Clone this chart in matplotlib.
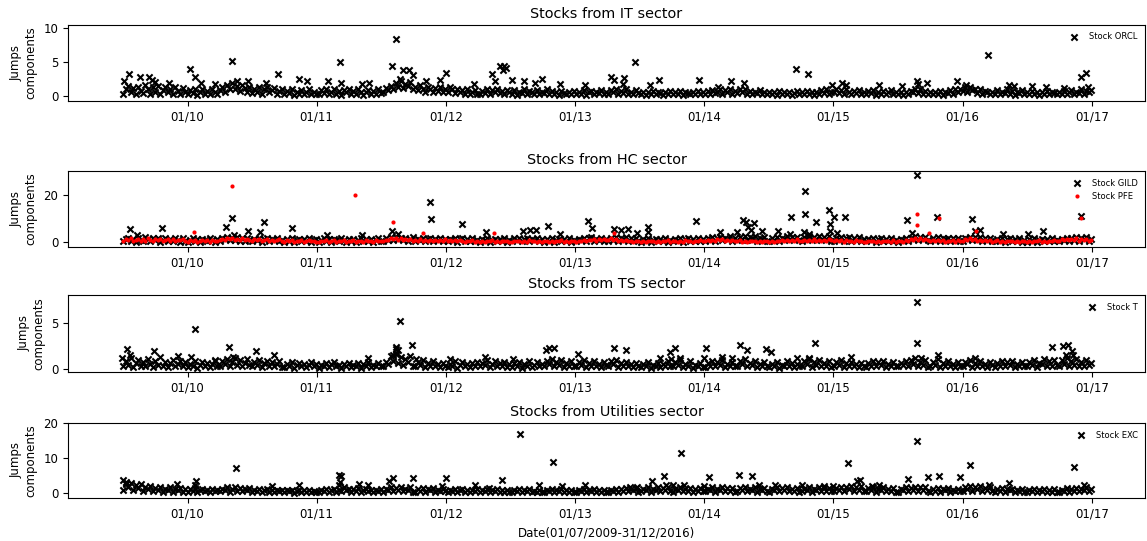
import matplotlib
matplotlib.use("Agg")
import matplotlib.dates as mdates
import pandas as pd
from matplotlib import pyplot as plt

# Weekly readings of the dense part of each jump series (Jul 2009 - Dec 2016),
# one row per quarter; the isolated spikes are listed separately below.
START, END = "2009-07-03", "2016-12-30"

# ---- IT sector: ORCL ----
orcl_band = [
    0.3, 0.9, 1.4, 0.5, 1.1, 0.2, 1.3, 0.7, 0.4, 1.5, 0.9, 0.3, 1.2,
    0.6, 1.4, 0.2, 0.8, 1.3, 0.5, 1.0, 0.3, 1.2, 0.7, 0.2, 1.1, 0.6,
    0.2, 0.8, 0.4, 1.0, 0.1, 0.6, 0.9, 0.3, 0.7, 0.2, 1.0, 0.5, 0.3,
    0.8, 1.2, 0.6, 1.6, 1.0, 1.8, 0.9, 1.4, 0.7, 1.5, 1.1, 0.6, 1.3,
    0.4, 1.0, 0.6, 1.3, 0.3, 0.9, 1.2, 0.5, 0.8, 1.1, 0.3, 0.7, 1.0,
    0.2, 0.7, 0.4, 0.9, 0.1, 0.6, 0.3, 0.8, 0.2, 0.5, 0.9, 0.3, 0.6, 0.2,
    0.2, 0.8, 0.4, 1.0, 0.2, 0.6, 0.9, 0.3, 0.7, 0.1, 0.8, 0.5, 1.0,
    0.3, 0.7, 0.2, 0.9, 0.5, 0.1, 0.6, 0.8, 0.3, 0.7, 0.2, 0.9, 0.4,
    0.5, 1.1, 0.8, 1.4, 1.0, 1.9, 1.3, 2.2, 1.1, 1.7, 1.4, 2.0, 0.9,
    1.2, 0.8, 1.5, 1.0, 0.6, 1.3, 0.9, 0.5, 1.1, 0.7, 1.2, 0.6, 1.0,
    0.6, 1.2, 0.9, 0.4, 1.0, 0.5, 0.8, 0.3, 0.9, 0.2, 0.6, 0.8, 0.3,
    0.2, 0.7, 0.4, 0.9, 0.3, 0.8, 0.5, 1.0, 0.4, 0.7, 0.2, 0.8, 0.5,
    0.3, 0.8, 0.1, 0.6, 0.4, 0.9, 0.2, 0.7, 0.5, 0.3, 0.8, 0.2, 0.6,
    0.4, 0.9, 0.2, 0.7, 0.3, 0.6, 0.1, 0.7, 0.4, 0.2, 0.6, 0.3, 0.7,
    0.2, 0.6, 0.3, 0.8, 0.1, 0.5, 0.7, 0.2, 0.6, 0.4, 0.8, 0.2, 0.5,
    0.3, 0.8, 0.5, 0.9, 0.2, 0.7, 0.4, 0.9, 0.3, 0.6, 0.2, 0.8, 0.4,
    0.2, 0.6, 0.1, 0.5, 0.3, 0.7, 0.2, 0.6, 0.4, 0.1, 0.5, 0.3, 0.7,
    0.2, 0.6, 0.3, 0.7, 0.1, 0.5, 0.4, 0.2, 0.6, 0.3, 0.7, 0.2, 0.5,
    0.3, 0.7, 0.2, 0.8, 0.4, 0.6, 1.0, 0.3, 0.8, 0.5, 0.9, 0.3, 0.7,
    0.4, 1.0, 0.6, 0.9, 0.3, 0.7, 0.2, 0.6, 0.4, 0.8, 0.2, 0.5, 0.3,
    0.6, 0.2, 0.5, 0.1, 0.7, 0.3, 0.5, 0.2, 0.6, 0.1, 0.4, 0.7, 0.2,
    0.5, 0.3, 0.7, 0.2, 0.6, 0.1, 0.5, 0.3, 0.8, 0.4, 0.9, 0.3, 0.6,
    0.5, 1.0, 0.4, 0.8, 0.3, 0.9, 0.6, 0.2, 0.7, 0.4, 0.8, 0.3, 0.6,
    0.2, 0.7, 0.4, 0.8, 0.1, 0.6, 0.3, 0.7, 0.2, 0.5, 0.8, 0.3, 0.6,
    0.2, 0.5, 0.1, 0.6, 0.3, 0.7, 0.5, 1.0, 0.4, 0.9, 0.3, 0.7, 0.2,
    0.6, 0.2, 0.5, 0.3, 0.7, 0.1, 0.6, 0.4, 0.8, 0.3, 0.9, 0.5, 1.0,
    0.7, 1.2, 0.5, 1.3, 0.8, 1.0, 0.4, 0.9, 0.3, 0.7, 0.5, 0.2, 0.6,
    0.3, 0.8, 0.2, 0.6, 0.4, 0.9, 0.3, 0.7, 0.1, 0.6, 0.4, 0.8, 0.2,
    0.5, 0.2, 0.7, 0.3, 0.6, 0.1, 0.5, 0.3, 0.7, 0.2, 0.6, 0.4, 0.2,
    0.6, 0.3, 0.7, 0.2, 0.5, 0.8, 0.3, 0.6, 0.4, 0.9, 0.3, 0.7, 0.5, 0.8,
]
orcl_spike_dates = [
    "2009-07-05", "2009-07-20", "2009-08-20", "2009-09-14", "2009-09-22", "2009-10-01", "2009-11-10",
    "2010-01-09", "2010-01-21", "2010-02-08", "2010-03-20", "2010-05-08", "2010-05-20", "2010-06-22",
    "2010-08-10", "2010-09-15", "2010-11-12", "2010-12-05", "2011-02-01", "2011-03-08", "2011-03-12",
    "2011-05-08", "2011-05-30", "2011-08-03", "2011-08-14", "2011-08-24", "2011-09-03", "2011-09-18",
    "2011-10-01", "2011-11-07", "2011-12-15", "2012-01-03", "2012-03-20", "2012-05-10", "2012-05-18",
    "2012-06-03", "2012-06-10", "2012-06-15", "2012-06-20", "2012-07-05", "2012-08-10", "2012-09-10",
    "2012-09-30", "2012-11-20", "2013-01-30", "2013-04-12", "2013-04-22", "2013-05-15", "2013-05-20",
    "2013-06-20", "2013-07-30", "2013-08-25", "2013-12-17", "2014-02-10", "2014-03-18", "2014-04-22",
    "2014-09-17", "2014-10-20", "2014-12-27", "2015-01-25", "2015-02-05", "2015-05-10", "2015-07-13",
    "2015-08-24", "2015-08-28", "2015-09-22", "2015-12-16", "2016-01-10", "2016-03-14", "2016-05-10",
    "2016-05-25", "2016-07-15", "2016-08-25", "2016-10-15", "2016-12-02", "2016-12-15", "2016-12-20",
]
orcl_spike_values = [
    2.2, 3.2, 2.7, 2.7, 2.3, 2.0, 1.8,
    3.9, 2.8, 1.8, 1.7, 5.1, 2.2, 2.2,
    1.8, 3.2, 2.4, 2.1, 2.1, 5.0, 1.9,
    1.7, 1.9, 4.4, 8.4, 2.5, 3.7, 3.7,
    3.0, 2.2, 2.3, 3.3, 1.7, 3.2, 2.1,
    4.3, 3.7, 4.3, 4.0, 2.3, 2.1, 1.8,
    2.5, 1.7, 1.5, 2.7, 2.3, 1.7, 2.6,
    4.9, 1.6, 2.3, 2.3, 1.3, 2.2, 1.9,
    3.9, 3.2, 1.6, 1.9, 1.6, 1.6, 1.4,
    2.2, 1.7, 1.9, 2.2, 1.6, 6.0, 1.6,
    1.4, 1.4, 1.2, 1.1, 2.7, 3.4, 1.2,
]

# ---- HC sector: GILD and PFE ----
gild_band = [
    0.4, 1.2, 2.0, 0.6, 1.5, 0.3, 1.8, 1.0, 0.5, 2.2, 1.3, 0.4, 1.7,
    0.8, 2.0, 0.3, 1.1, 1.9, 0.6, 1.4, 0.4, 1.6, 1.0, 0.3, 1.8, 0.7,
    0.3, 1.0, 1.7, 0.5, 1.3, 0.2, 1.5, 0.8, 0.4, 1.8, 1.1, 0.3, 1.4,
    0.6, 1.9, 1.2, 2.4, 0.8, 2.0, 1.0, 2.2, 0.7, 1.6, 0.5, 1.8, 1.1,
    0.4, 1.5, 0.9, 1.9, 0.3, 1.2, 1.7, 0.5, 1.4, 0.8, 1.8, 0.4, 1.1,
    0.3, 1.3, 0.7, 1.6, 0.2, 1.0, 1.5, 0.4, 1.2, 0.6, 1.7, 0.3, 0.9, 1.4,
    0.3, 1.1, 1.6, 0.5, 1.3, 0.2, 1.4, 0.8, 0.4, 1.7, 1.0, 0.3, 1.2,
    0.5, 1.5, 0.2, 1.1, 1.6, 0.4, 1.2, 0.7, 1.5, 0.3, 1.0, 1.7, 0.6,
    0.4, 1.6, 1.0, 2.2, 0.8, 2.4, 1.3, 2.0, 0.9, 1.8, 0.6, 1.5, 2.1,
    0.5, 1.4, 0.9, 1.9, 0.4, 1.3, 1.7, 0.6, 1.5, 0.8, 2.0, 0.5, 1.2,
    0.4, 1.5, 0.9, 1.8, 0.3, 1.2, 1.6, 0.5, 1.4, 0.7, 1.7, 0.4, 1.1,
    0.3, 1.3, 0.8, 1.6, 0.2, 1.1, 1.5, 0.4, 1.2, 0.6, 1.7, 0.3, 1.0,
    0.4, 1.6, 1.0, 2.0, 0.5, 1.4, 1.9, 0.6, 1.5, 0.9, 1.8, 0.4, 1.3,
    0.3, 1.2, 0.7, 1.6, 0.2, 1.1, 1.5, 0.4, 1.3, 0.6, 1.7, 0.3, 1.0,
    0.4, 1.4, 0.9, 1.9, 0.5, 1.6, 2.1, 0.6, 1.5, 0.8, 2.0, 0.5, 1.3,
    0.6, 1.8, 1.1, 2.3, 0.7, 1.9, 1.4, 2.1, 0.5, 1.6, 0.9, 1.9, 0.4,
    0.3, 1.3, 0.8, 1.7, 0.2, 1.1, 1.5, 0.4, 1.2, 0.6, 1.6, 0.3, 1.0,
    0.4, 1.5, 0.9, 1.8, 0.3, 1.2, 1.7, 0.5, 1.4, 0.7, 1.9, 0.4, 1.3,
    0.5, 1.7, 1.1, 2.2, 0.6, 1.8, 2.4, 0.8, 1.9, 1.2, 2.5, 0.7, 1.6,
    0.8, 2.3, 1.4, 2.7, 0.9, 2.1, 1.6, 2.5, 0.7, 1.9, 1.2, 2.3, 0.6,
    0.5, 1.8, 1.1, 2.3, 0.7, 2.0, 1.4, 2.6, 0.8, 2.2, 1.3, 2.4, 0.9,
    0.6, 2.1, 1.3, 2.6, 0.8, 2.4, 1.5, 2.8, 0.9, 2.2, 1.4, 2.5, 0.7,
    0.5, 1.9, 1.2, 2.3, 0.6, 1.7, 2.1, 0.7, 1.8, 1.0, 2.2, 0.5, 1.4,
    0.4, 1.4, 0.9, 1.8, 0.3, 1.2, 1.6, 0.5, 1.3, 0.7, 1.7, 0.4, 1.1,
    0.3, 1.3, 0.8, 1.9, 0.6, 2.0, 1.3, 2.5, 0.9, 2.2, 1.5, 2.4, 0.8,
    0.5, 1.7, 1.0, 2.1, 0.6, 1.8, 1.2, 2.0, 0.5, 1.6, 0.9, 1.9, 0.6,
    0.6, 2.0, 1.3, 2.4, 0.8, 2.1, 1.5, 2.2, 0.7, 1.8, 1.1, 2.0, 0.5,
    0.4, 1.4, 0.8, 1.7, 0.3, 1.2, 1.6, 0.4, 1.3, 0.7, 1.8, 0.3, 1.1,
    0.3, 1.2, 0.7, 1.6, 0.2, 1.1, 1.5, 0.4, 1.3, 0.6, 1.7, 0.4, 1.0,
    0.5, 1.5, 0.9, 1.9, 0.4, 1.6, 1.1, 2.2, 0.7, 1.9, 1.2, 2.1, 0.6, 1.5,
]
gild_spike_dates = [
    "2009-07-23", "2009-08-10", "2009-10-20", "2010-04-20", "2010-05-08", "2010-05-12", "2010-06-22",
    "2010-07-26", "2010-08-05", "2010-10-22", "2011-01-30", "2011-05-08", "2011-08-03", "2011-08-20",
    "2011-11-18", "2011-11-19", "2012-02-15", "2012-04-25", "2012-08-05", "2012-08-25", "2012-09-12",
    "2012-10-16", "2012-11-20", "2013-02-05", "2013-02-18", "2013-04-20", "2013-05-10", "2013-05-30",
    "2013-06-25", "2013-07-25", "2013-07-26", "2013-12-08", "2014-02-15", "2014-04-02", "2014-04-20",
    "2014-04-28", "2014-05-05", "2014-05-12", "2014-05-22", "2014-06-12", "2014-07-28", "2014-08-30",
    "2014-09-03", "2014-10-10", "2014-10-12", "2014-10-14", "2014-10-25", "2014-11-13", "2014-12-20",
    "2014-12-22", "2014-12-23", "2015-01-03", "2015-01-10", "2015-02-03", "2015-07-27", "2015-08-12",
    "2015-08-24", "2015-10-20", "2016-01-27", "2016-02-05", "2016-02-18", "2016-04-25", "2016-07-05",
    "2016-08-15", "2016-12-02",
]
gild_spike_values = [
    5.5, 3.1, 5.9, 6.3, 10.4, 3.0, 4.9,
    4.4, 8.4, 5.9, 2.9, 2.9, 4.9, 3.5,
    16.9, 9.8, 7.6, 4.5, 4.8, 5.0, 5.1,
    6.9, 3.4, 9.0, 5.9, 5.5, 5.2, 5.5,
    3.8, 6.3, 4.5, 9.1, 4.4, 4.4, 9.3,
    8.6, 6.3, 5.1, 8.2, 4.8, 4.9, 3.7,
    10.8, 4.3, 21.6, 11.9, 3.7, 8.7, 13.6,
    7.7, 4.8, 10.8, 3.9, 10.8, 9.4, 4.0,
    28.4, 10.5, 9.8, 4.8, 5.3, 3.4, 3.4,
    4.6, 11.1,
]
pfe_band = [
    0.6, 1.3, 0.9, 1.7, 0.4, 1.1, 1.5, 0.7, 1.2, 0.5, 1.6, 0.9, 0.4,
    1.3, 0.8, 1.5, 0.5, 1.0, 1.4, 0.6, 1.2, 0.4, 1.1, 0.8, 1.3, 0.5,
    0.3, 0.8, 0.5, 1.0, 0.2, 0.7, 0.9, 0.4, 0.8, 0.3, 1.0, 0.5, 0.7,
    0.9, 1.4, 1.0, 1.8, 1.2, 1.6, 0.8, 1.5, 1.1, 1.7, 0.9, 1.3, 1.0,
    0.6, 1.2, 0.8, 1.4, 0.5, 1.0, 1.3, 0.6, 1.1, 0.4, 0.9, 1.2, 0.5,
    0.3, 0.8, 0.5, 0.9, 0.2, 0.7, 0.4, 0.8, 0.3, 0.6, 0.9, 0.4, 0.7, 0.3,
    0.3, 0.7, 0.4, 0.9, 0.2, 0.6, 0.8, 0.3, 0.7, 0.4, 0.9, 0.2, 0.6,
    0.4, 0.8, 0.3, 0.7, 0.5, 0.2, 0.8, 0.4, 0.6, 0.3, 0.9, 0.5, 0.7,
    0.6, 1.1, 0.9, 1.6, 1.2, 1.9, 1.0, 1.7, 0.8, 1.4, 1.1, 1.5, 0.7,
    0.9, 0.5, 1.2, 0.7, 1.0, 0.4, 0.9, 0.6, 1.1, 0.5, 1.0, 0.7, 1.2,
    0.5, 1.0, 0.7, 0.9, 0.4, 0.8, 0.6, 0.3, 0.7, 0.5, 0.9, 0.3, 0.6,
    0.3, 0.7, 0.2, 0.6, 0.4, 0.8, 0.3, 0.5, 0.2, 0.7, 0.4, 0.6, 0.3,
    0.2, 0.6, 0.4, 0.7, 0.3, 0.5, 0.2, 0.8, 0.4, 0.6, 0.3, 0.7, 0.2,
    0.4, 0.7, 0.3, 0.6, 0.2, 0.5, 0.4, 0.8, 0.3, 0.6, 0.2, 0.7, 0.4,
    0.3, 0.7, 0.4, 0.8, 0.6, 1.1, 0.8, 1.4, 0.7, 1.2, 0.9, 1.5, 0.8,
    1.1, 1.6, 0.9, 1.3, 0.7, 1.0, 0.5, 0.8, 0.4, 0.7, 0.3, 0.6, 0.4,
    0.3, 0.6, 0.2, 0.7, 0.4, 0.5, 0.3, 0.7, 0.2, 0.6, 0.4, 0.8, 0.3,
    0.4, 0.7, 0.2, 0.6, 0.3, 0.8, 0.4, 0.6, 0.3, 0.7, 0.5, 0.8, 0.4,
    0.5, 0.9, 0.6, 1.1, 0.7, 1.3, 0.8, 1.2, 0.6, 1.0, 0.5, 0.9, 0.7,
    0.4, 0.8, 0.3, 0.7, 0.2, 0.6, 0.4, 0.7, 0.3, 0.6, 0.2, 0.5, 0.4,
    0.3, 0.7, 0.2, 0.6, 0.4, 0.8, 0.5, 0.9, 0.6, 1.1, 0.7, 1.2, 0.5,
    0.6, 1.0, 0.4, 0.9, 0.5, 1.2, 0.7, 1.1, 0.5, 1.0, 0.6, 1.2, 0.8,
    0.5, 0.9, 0.4, 0.8, 0.3, 0.9, 0.5, 0.7, 0.3, 0.8, 0.4, 0.6, 0.3,
    0.2, 0.6, 0.4, 0.7, 0.3, 0.5, 0.2, 0.7, 0.4, 0.6, 0.3, 0.8, 0.2,
    0.4, 0.7, 0.3, 0.8, 0.6, 1.2, 0.9, 1.6, 1.1, 1.9, 1.0, 1.5, 0.8,
    0.6, 1.1, 0.4, 0.9, 0.5, 0.8, 0.3, 0.7, 0.4, 0.9, 0.3, 0.8, 0.5,
    0.7, 1.2, 0.9, 1.6, 1.0, 1.4, 0.7, 1.1, 0.5, 0.9, 0.4, 0.8, 0.3,
    0.5, 0.8, 0.3, 0.7, 0.2, 0.6, 0.4, 0.7, 0.3, 0.5, 0.2, 0.6, 0.4,
    0.3, 0.7, 0.2, 0.6, 0.4, 0.8, 0.3, 0.6, 0.2, 0.7, 0.4, 0.9, 0.5,
    0.7, 1.2, 0.9, 1.5, 0.8, 1.3, 1.0, 1.6, 0.7, 1.2, 0.9, 1.4, 0.6, 1.1,
]
pfe_spike_dates = [
    "2010-01-18", "2010-05-06", "2011-04-20", "2011-08-06", "2011-10-28", "2012-05-15", "2013-04-22",
    "2015-08-24", "2015-08-25", "2015-09-28", "2015-10-27", "2016-02-08", "2016-12-02",
]
pfe_spike_values = [4.3, 23.8, 20.0, 8.4, 3.8, 4.1, 3.9, 11.9, 7.3, 3.9, 10.1, 4.8, 10.1]

# ---- TS sector: T ----
t_band = [
    0.3, 0.9, 0.5, 1.2, 0.2, 0.7, 1.0, 0.4, 0.8, 0.3, 1.1, 0.6, 0.2,
    0.9, 0.5, 1.3, 0.4, 0.8, 0.2, 0.7, 1.0, 0.3, 0.6, 0.9, 0.4, 0.8,
    0.2, 0.6, 0.4, 0.9, 0.1, 0.5, 0.8, 0.3, 0.7, 0.2, 0.6, 0.9, 0.3,
    0.4, 0.9, 0.6, 1.1, 0.3, 0.8, 1.2, 0.5, 1.0, 0.4, 0.7, 1.1, 0.5,
    0.3, 0.8, 0.5, 1.0, 0.2, 0.7, 0.9, 0.4, 0.8, 0.3, 0.6, 0.9, 0.2,
    0.2, 0.6, 0.4, 0.8, 0.1, 0.5, 0.7, 0.3, 0.6, 0.2, 0.5, 0.8, 0.3, 0.6,
    0.1, 0.5, 0.3, 0.7, 0.2, 0.6, 0.8, 0.3, 0.5, 0.1, 0.6, 0.4, 0.7,
    0.2, 0.5, 0.3, 0.7, 0.1, 0.6, 0.4, 0.8, 0.2, 0.5, 0.3, 0.7, 0.4,
    0.3, 0.8, 0.6, 1.4, 0.9, 1.7, 0.7, 1.3, 0.5, 1.1, 0.8, 1.4, 0.4,
    0.3, 0.8, 0.5, 1.0, 0.2, 0.7, 0.4, 0.9, 0.3, 0.6, 0.2, 0.7, 0.4,
    0.2, 0.6, 0.4, 0.9, 0.1, 0.5, 0.8, 0.3, 0.6, 0.2, 0.7, 0.4, 0.8,
    0.3, 0.7, 0.5, 1.0, 0.2, 0.6, 0.9, 0.4, 0.7, 0.3, 0.8, 0.2, 0.6,
    0.2, 0.7, 0.4, 0.8, 0.1, 0.6, 0.3, 0.9, 0.2, 0.5, 0.8, 0.3, 0.6,
    0.4, 0.9, 0.6, 1.1, 0.3, 0.8, 0.5, 1.0, 0.2, 0.7, 0.4, 0.9, 0.3,
    0.3, 0.8, 0.5, 1.0, 0.2, 0.7, 0.4, 0.9, 0.3, 0.6, 0.2, 0.8, 0.5,
    0.3, 0.9, 0.6, 1.0, 0.2, 0.7, 0.4, 0.8, 0.3, 0.6, 0.2, 0.7, 0.4,
    0.2, 0.6, 0.3, 0.8, 0.1, 0.5, 0.4, 0.7, 0.2, 0.6, 0.3, 0.9, 0.4,
    0.3, 0.8, 0.5, 1.0, 0.2, 0.6, 0.4, 0.9, 0.1, 0.5, 0.3, 0.7, 0.2,
    0.2, 0.7, 0.4, 0.9, 0.3, 0.8, 0.5, 1.0, 0.2, 0.6, 0.4, 0.8, 0.3,
    0.4, 0.9, 0.6, 1.1, 0.3, 0.7, 0.5, 0.9, 0.2, 0.6, 0.4, 0.8, 0.3,
    0.2, 0.6, 0.3, 0.8, 0.1, 0.5, 0.4, 0.9, 0.3, 0.7, 0.2, 0.6, 0.4,
    0.3, 0.9, 0.6, 1.1, 0.2, 0.8, 0.5, 1.0, 0.3, 0.7, 0.4, 0.9, 0.2,
    0.3, 0.8, 0.5, 1.0, 0.2, 0.7, 0.4, 0.8, 0.3, 0.6, 0.2, 0.7, 0.4,
    0.2, 0.7, 0.4, 0.9, 0.3, 0.8, 0.5, 0.9, 0.2, 0.6, 0.4, 0.8, 0.3,
    0.3, 0.7, 0.5, 0.9, 0.4, 1.0, 0.6, 1.2, 0.3, 0.8, 0.5, 1.0, 0.2,
    0.3, 0.8, 0.5, 1.1, 0.2, 0.7, 0.4, 0.9, 0.3, 0.6, 0.2, 0.8, 0.4,
    0.3, 0.8, 0.6, 1.0, 0.2, 0.7, 0.4, 0.9, 0.3, 0.6, 0.2, 0.8, 0.5,
    0.2, 0.7, 0.4, 0.9, 0.3, 0.8, 0.5, 0.9, 0.2, 0.6, 0.4, 0.8, 0.3,
    0.3, 0.8, 0.5, 1.0, 0.2, 0.7, 0.6, 1.1, 0.4, 0.9, 0.3, 1.0, 0.5,
    0.4, 1.0, 0.6, 1.2, 0.3, 0.9, 0.5, 1.1, 0.4, 0.8, 0.3, 1.0, 0.5, 0.7,
]
t_spike_dates = [
    "2009-07-01", "2009-07-15", "2009-07-22", "2009-09-28", "2009-12-05", "2010-01-10", "2010-01-22",
    "2010-03-20", "2010-04-28", "2010-05-10", "2010-07-14", "2010-09-02", "2011-05-25", "2011-08-05",
    "2011-08-12", "2011-08-14", "2011-08-16", "2011-08-20", "2011-08-25", "2011-09-28", "2011-10-10",
    "2012-01-12", "2012-04-20", "2012-07-10", "2012-10-10", "2012-10-20", "2012-11-03", "2013-01-10",
    "2013-04-20", "2013-05-25", "2013-08-30", "2013-09-25", "2013-09-28", "2013-10-10", "2013-10-25",
    "2014-01-01", "2014-01-07", "2014-02-20", "2014-03-20", "2014-04-12", "2014-05-03", "2014-06-25",
    "2014-07-08", "2014-09-20", "2014-10-25", "2014-11-10", "2015-02-20", "2015-08-24", "2015-08-25",
    "2015-09-05", "2015-10-25", "2016-02-05", "2016-09-10", "2016-10-10", "2016-10-20", "2016-10-25",
    "2016-11-05", "2016-11-08",
]
t_spike_values = [
    1.2, 2.2, 1.6, 2.0, 1.4, 1.3, 4.4,
    1.0, 2.4, 1.3, 2.0, 1.5, 1.2, 1.6,
    2.4, 2.2, 1.7, 2.1, 5.3, 2.6, 1.1,
    1.1, 1.3, 1.1, 2.1, 2.3, 2.3, 1.7,
    2.3, 2.1, 1.2, 1.9, 1.1, 2.3, 1.2,
    1.2, 2.3, 1.3, 1.2, 2.6, 2.1, 2.2,
    1.9, 1.2, 1.2, 2.9, 1.3, 7.3, 2.9,
    1.2, 1.5, 1.2, 2.4, 2.5, 1.5, 2.6,
    2.0, 1.5,
]

# ---- Utilities sector: EXC ----
exc_band = [
    1.0, 2.5, 1.6, 3.0, 0.8, 2.2, 1.4, 2.6, 0.6, 1.8, 1.2, 2.0, 0.5,
    1.5, 1.0, 1.8, 0.4, 1.3, 0.9, 1.6, 0.3, 1.2, 0.8, 1.5, 0.4, 1.1,
    0.3, 1.1, 0.7, 1.4, 0.2, 0.9, 1.3, 0.5, 1.0, 0.3, 1.2, 0.6, 0.9,
    0.5, 1.3, 0.8, 1.7, 0.4, 1.2, 1.6, 0.6, 1.4, 0.5, 1.1, 0.8, 1.5,
    0.3, 1.0, 0.6, 1.3, 0.2, 0.9, 1.2, 0.4, 0.8, 0.2, 1.0, 0.5, 0.9,
    0.2, 0.8, 0.5, 1.0, 0.1, 0.7, 0.9, 0.3, 0.8, 0.2, 0.9, 0.4, 0.7, 0.3,
    0.2, 0.8, 0.5, 1.1, 0.3, 0.9, 1.2, 0.4, 1.0, 0.6, 1.6, 0.8, 1.3,
    0.4, 1.1, 0.7, 1.4, 0.3, 0.9, 1.2, 0.5, 1.0, 0.3, 0.8, 0.6, 1.1,
    0.4, 1.2, 0.8, 1.7, 0.6, 1.5, 1.0, 1.8, 0.5, 1.3, 0.9, 1.6, 0.4,
    0.3, 1.1, 0.7, 1.4, 0.4, 1.2, 0.8, 1.5, 0.3, 1.0, 0.6, 1.3, 0.5,
    0.3, 1.0, 0.6, 1.3, 0.2, 0.9, 1.2, 0.4, 1.0, 0.3, 0.8, 0.5, 1.1,
    0.2, 0.9, 0.6, 1.2, 0.3, 1.0, 0.5, 1.1, 0.2, 0.8, 0.4, 1.0, 0.3,
    0.2, 0.8, 0.5, 1.1, 0.3, 0.9, 0.6, 1.2, 0.2, 0.7, 0.4, 1.0, 0.3,
    0.3, 1.0, 0.6, 1.3, 0.2, 0.9, 0.5, 1.1, 0.3, 0.8, 0.4, 1.0, 0.2,
    0.3, 0.9, 0.6, 1.2, 0.2, 0.8, 0.5, 1.1, 0.3, 0.9, 0.4, 1.0, 0.2,
    0.3, 1.0, 0.7, 1.3, 0.4, 1.1, 0.6, 1.4, 0.5, 1.2, 0.8, 1.5, 0.4,
    0.5, 1.3, 0.9, 1.7, 0.4, 1.2, 0.8, 1.6, 0.5, 1.4, 0.9, 1.8, 0.6,
    0.4, 1.2, 0.8, 1.6, 0.5, 1.3, 0.7, 1.5, 0.4, 1.1, 0.6, 1.4, 0.5,
    0.5, 1.3, 0.9, 1.7, 0.4, 1.2, 0.8, 1.6, 0.5, 1.4, 0.7, 1.5, 0.4,
    0.6, 1.5, 1.0, 1.8, 0.5, 1.3, 0.9, 1.7, 0.4, 1.2, 0.8, 1.5, 0.5,
    0.4, 1.2, 0.8, 1.6, 0.5, 1.4, 0.9, 1.7, 0.6, 1.3, 0.7, 1.5, 0.4,
    0.5, 1.3, 0.8, 1.6, 0.4, 1.2, 0.9, 1.7, 0.5, 1.4, 0.7, 1.5, 0.6,
    0.5, 1.4, 0.9, 1.8, 0.6, 1.6, 1.1, 2.0, 0.7, 1.7, 1.0, 1.9, 0.6,
    0.5, 1.4, 0.9, 1.7, 0.4, 1.3, 0.8, 1.6, 0.5, 1.2, 0.7, 1.5, 0.4,
    0.4, 1.2, 0.8, 1.6, 0.5, 1.5, 1.0, 1.8, 0.6, 1.6, 0.9, 1.7, 0.5,
    0.4, 1.2, 0.7, 1.5, 0.3, 1.1, 0.8, 1.4, 0.4, 1.0, 0.6, 1.3, 0.5,
    0.6, 1.6, 1.1, 2.0, 0.7, 1.8, 1.2, 1.9, 0.6, 1.4, 0.9, 1.6, 0.5,
    0.4, 1.2, 0.7, 1.5, 0.3, 1.1, 0.8, 1.3, 0.4, 1.0, 0.6, 1.2, 0.3,
    0.3, 1.0, 0.6, 1.3, 0.2, 0.9, 0.5, 1.2, 0.3, 0.8, 0.4, 1.1, 0.2,
    0.3, 1.0, 0.6, 1.4, 0.4, 1.2, 0.7, 1.5, 0.5, 1.3, 0.8, 1.6, 0.6, 1.2,
]
exc_spike_dates = [
    "2009-07-03", "2009-07-10", "2009-07-12", "2009-12-01", "2010-01-22", "2010-01-25", "2010-05-17",
    "2010-08-28", "2010-11-12", "2011-03-04", "2011-03-06", "2011-03-08", "2011-03-10", "2011-05-02",
    "2011-05-25", "2011-07-25", "2011-08-05", "2011-09-30", "2011-12-20", "2012-01-01", "2012-03-25",
    "2012-05-01", "2012-06-07", "2012-07-30", "2012-09-20", "2012-10-30", "2012-11-25", "2013-01-30",
    "2013-06-05", "2013-06-25", "2013-08-05", "2013-09-10", "2013-09-15", "2013-10-05", "2013-10-27",
    "2013-11-05", "2013-12-30", "2014-01-15", "2014-04-10", "2014-05-15", "2014-06-05", "2014-07-20",
    "2014-10-05", "2014-12-05", "2015-01-01", "2015-02-12", "2015-03-10", "2015-03-18", "2015-04-20",
    "2015-05-10", "2015-07-30", "2015-08-24", "2015-09-24", "2015-10-27", "2015-12-26", "2016-01-22",
    "2016-03-15", "2016-05-10", "2016-11-10", "2016-12-10",
]
exc_spike_values = [
    3.7, 3.2, 2.8, 2.6, 2.3, 3.5, 7.3,
    2.0, 2.3, 2.3, 5.1, 3.2, 5.0, 2.6,
    2.4, 3.4, 4.3, 4.2, 2.1, 4.2, 2.3,
    1.4, 3.7, 17.0, 2.3, 8.8, 1.9, 2.3,
    1.8, 1.8, 3.5, 4.9, 2.3, 2.3, 11.3,
    2.3, 1.9, 4.7, 5.3, 4.9, 2.3, 2.4,
    2.2, 2.0, 2.1, 8.5, 3.4, 3.7, 2.1,
    2.3, 3.9, 14.9, 4.7, 4.9, 4.7, 8.0,
    2.3, 3.0, 7.5, 2.3,
]


def jump_series(band, spike_dates, spike_values):
    band_dates = pd.date_range(START, END, periods=len(band))
    dates = list(band_dates) + list(pd.to_datetime(spike_dates))
    return dates, list(band) + list(spike_values)


def cross(ax, dates, values, label):
    ax.scatter(dates, values, marker="x", s=20, linewidths=1.5, color="black", label=label)


def dots(ax, dates, values, label):
    ax.scatter(dates, values, marker="o", s=9, linewidths=0, color="red", label=label)


fig = plt.figure(figsize=(11.47, 5.41), dpi=100)
# axes boxes: left, bottom, width, height
boxes = [
    (0.0593, 0.8133, 0.939, 0.1405),
    (0.0593, 0.5434, 0.939, 0.1405),
    (0.0593, 0.3124, 0.939, 0.1423),
    (0.0593, 0.0795, 0.939, 0.1386),
]
axes = [fig.add_axes(b) for b in boxes]
ax_it, ax_hc, ax_ts, ax_ut = axes

cross(ax_it, *jump_series(orcl_band, orcl_spike_dates, orcl_spike_values), "Stock ORCL")
cross(ax_hc, *jump_series(gild_band, gild_spike_dates, gild_spike_values), "Stock GILD")
dots(ax_hc, *jump_series(pfe_band, pfe_spike_dates, pfe_spike_values), "Stock PFE")
cross(ax_ts, *jump_series(t_band, t_spike_dates, t_spike_values), "Stock T")
cross(ax_ut, *jump_series(exc_band, exc_spike_dates, exc_spike_values), "Stock EXC")

titles = ["Stocks from IT sector", "Stocks from HC sector",
          "Stocks from TS sector", "Stocks from Utilities sector"]
ylims = [(-0.8, 10.4), (-2.0, 30.1), (-0.3, 8.1), (-1.4, 20.0)]
yticks = [[0, 5, 10], [0, 20], [0, 5], [0, 10, 20]]

for ax, title, ylim, yt in zip(axes, titles, ylims, yticks):
    ax.set_title(title, fontsize=10.4, pad=5)
    ax.set_xlim(pd.Timestamp("2009-01-28"), pd.Timestamp("2017-05-31"))
    ax.set_ylim(*ylim)
    ax.set_yticks(yt)
    ax.xaxis.set_major_locator(mdates.YearLocator())
    ax.xaxis.set_major_formatter(mdates.DateFormatter("%m/%y"))
    ax.tick_params(labelsize=8.5)
    ax.set_ylabel("Jumps\ncomponents", fontsize=8.5)
    ax.legend(loc="upper right", frameon=False, fontsize=6)

ax_ut.set_xlabel("Date(01/07/2009-31/12/2016)", fontsize=8.5)

fig.savefig("out.png", dpi=100)
